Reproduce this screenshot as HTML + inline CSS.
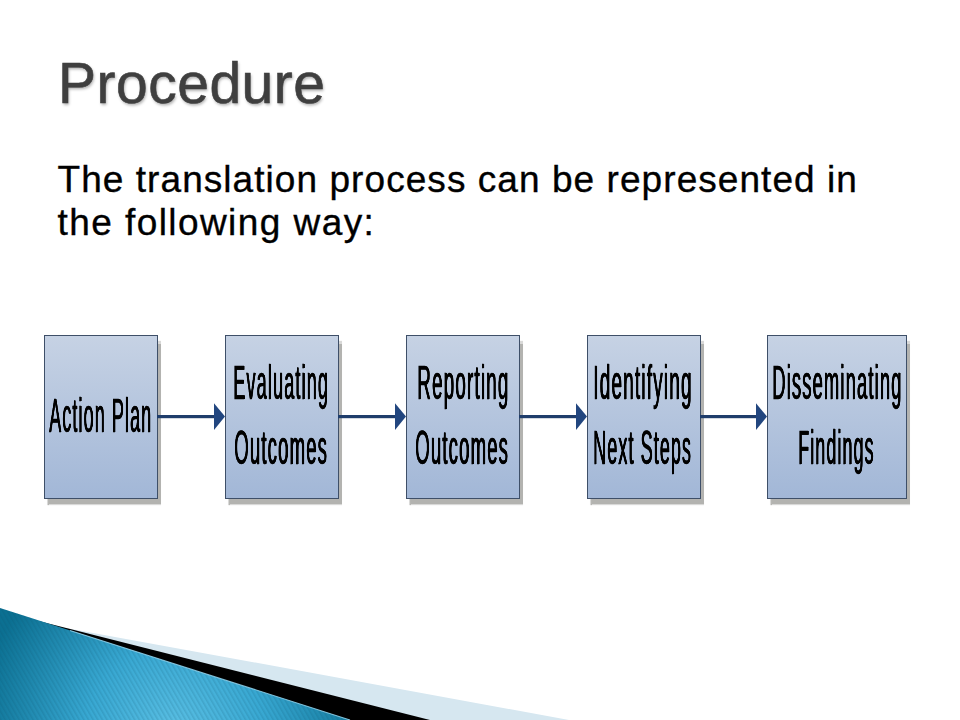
<!DOCTYPE html>
<html>
<head>
<meta charset="utf-8">
<style>
html,body{margin:0;padding:0;}
body{width:960px;height:720px;overflow:hidden;background:#ffffff;position:relative;font-family:"Liberation Sans",sans-serif;}
.abs{position:absolute;white-space:nowrap;}
#title{left:58px;top:48px;font-size:57px;line-height:70px;color:#3f3f3f;letter-spacing:0.5px;-webkit-text-stroke:0.6px #3f3f3f;text-shadow:1px 2px 3px rgba(0,0,0,0.3);}
.body{font-size:37px;line-height:44px;color:#000;-webkit-text-stroke:0.35px #000;}
#l1{left:57.5px;top:157.5px;letter-spacing:1.06px;}
#l2{left:57.5px;top:200.5px;letter-spacing:1.43px;}
.box{position:absolute;top:335px;height:162px;border:1px solid #3e4f68;background:linear-gradient(#c6d2e4,#a2b7d7);box-shadow:2.5px 6px 1px #b3b3b0;}
.bt{position:absolute;font-size:48px;line-height:60px;color:#000;transform-origin:0 0;white-space:nowrap;-webkit-text-stroke:0.4px #000;text-shadow:1.6px 0 0 #000;letter-spacing:3px;will-change:transform;}
</style>
</head>
<body>
<div id="title" class="abs">Procedure</div>
<div id="l1" class="abs body">The translation process can be represented in</div>
<div id="l2" class="abs body">the following way:</div>

<div class="box" style="left:44px;width:112px;"></div>
<div class="box" style="left:225px;width:112px;"></div>
<div class="box" style="left:406px;width:112px;"></div>
<div class="box" style="left:587px;width:112px;"></div>
<div class="box" style="left:767px;width:138px;"></div>

<svg class="abs" style="left:0;top:0" width="960" height="720" viewBox="0 0 960 720">
  <g fill="#1f3d6b">
    <rect x="157" y="415" width="58" height="3.2"/>
    <polygon points="214,403.3 225,416.6 214,430" fill="#22467f"/>
    <rect x="338" y="415" width="58" height="3.2"/>
    <polygon points="395,403.3 406,416.6 395,430" fill="#22467f"/>
    <rect x="519" y="415" width="58" height="3.2"/>
    <polygon points="576,403.3 587,416.6 576,430" fill="#22467f"/>
    <rect x="700" y="415" width="57" height="3.2"/>
    <polygon points="756,403.3 767,416.6 756,430" fill="#22467f"/>
  </g>
</svg>

<div class="bt" style="left:49.20px;top:386px;transform:scaleX(0.3735)">Action Plan</div>
<div class="bt" style="left:232.90px;top:353px;transform:scaleX(0.3771)">Evaluating</div>
<div class="bt" style="left:233.90px;top:418px;transform:scaleX(0.3866)">Outcomes</div>
<div class="bt" style="left:416.50px;top:353px;transform:scaleX(0.3922)">Reporting</div>
<div class="bt" style="left:414.90px;top:418px;transform:scaleX(0.3866)">Outcomes</div>
<div class="bt" style="left:592.90px;top:353px;transform:scaleX(0.3950)">Identifying</div>
<div class="bt" style="left:592.90px;top:418px;transform:scaleX(0.3732)">Next Steps</div>
<div class="bt" style="left:772.4px;top:353px;transform:scaleX(0.3827)">Disseminating</div>
<div class="bt" style="left:797.90px;top:418px;transform:scaleX(0.3718)">Findings</div>

<svg class="abs" style="left:0;top:0" width="960" height="720" viewBox="0 0 960 720">
  <defs>
    <radialGradient id="teal" gradientUnits="userSpaceOnUse" cx="175" cy="735" r="200">
      <stop offset="0" stop-color="#5cc0e4"/>
      <stop offset="0.45" stop-color="#38a8d2"/>
      <stop offset="1" stop-color="#0b7092"/>
    </radialGradient>
    <pattern id="stripes" patternUnits="userSpaceOnUse" width="4" height="7" patternTransform="rotate(-30)">
      <rect x="0" y="0" width="1.6" height="7" fill="#0a4f68" fill-opacity="0.16"/>
    </pattern>
  </defs>
  <polygon points="0,615.9 569,720 0,720" fill="#d6e7f0"/>
  <polygon points="0,611.3 430,720 0,720" fill="#000000"/>
  <polygon points="0,608 350,720 0,720" fill="url(#teal)"/>
  <polygon points="0,608 350,720 0,720" fill="url(#stripes)"/>
  <line x1="70" y1="630.4" x2="350" y2="720" stroke="#94d6f0" stroke-width="1.1" stroke-opacity="0.85"/>
</svg>
</body>
</html>
